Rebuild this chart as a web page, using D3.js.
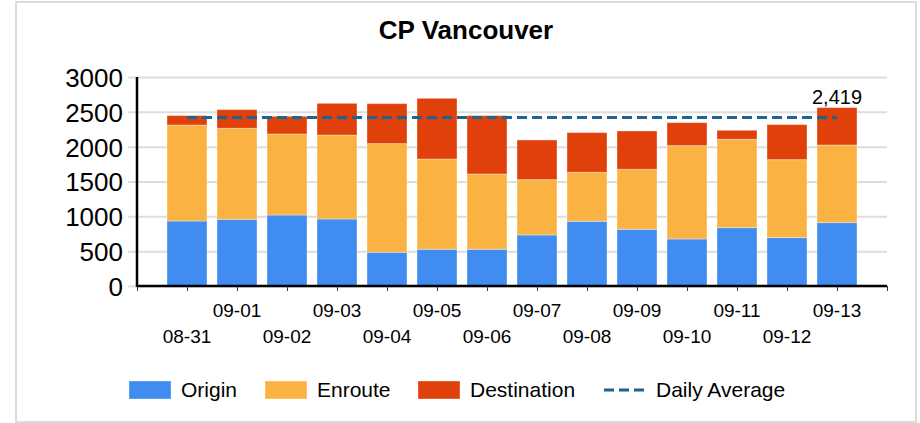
<!DOCTYPE html>
<html>
<head>
<meta charset="utf-8">
<script src="https://cdn.jsdelivr.net/npm/d3@7"></script>
<style>
  body { margin: 0; background: #fff; font-family: "Liberation Sans", Arial, sans-serif; }
</style>
</head>
<body>
<div id="chart"></div>
<script>
let w = 920;
let h = 423;

// data
let dates = ['08-31', '09-01', '09-02', '09-03', '09-04', '09-05', '09-06',
             '09-07', '09-08', '09-09', '09-10', '09-11', '09-12', '09-13'];
let origin      = [933, 957, 1019, 962, 484, 527, 527, 732, 929, 814, 675, 838, 695, 910];
let enroute     = [1378, 1307, 1163, 1205, 1560, 1296, 1081, 795, 703, 861, 1340, 1268, 1119, 1114];
let destination = [135, 268, 254, 455, 574, 871, 838, 569, 570, 550, 330, 129, 503, 537];
let dailyAverage = 2419;
let yTicks = [0, 500, 1000, 1500, 2000, 2500, 3000];
let seriesNames = ['Origin', 'Enroute', 'Destination'];
let colors = ['#418cf0', '#fab343', '#e0410a'];
let avgColor = '#1b6493';

let svg = d3.select('#chart')
  .append('svg')
  .attr('width', w)
  .attr('height', h);

// frame
svg.append('rect')
  .attr('x', 16).attr('y', 2)
  .attr('width', 900).attr('height', 420)
  .style('fill', '#fff')
  .style('stroke', '#dcdcdc')
  .style('stroke-width', 2);

// title
svg.append('text')
  .text('CP Vancouver')
  .attr('x', 466).attr('y', 39)
  .attr('text-anchor', 'middle')
  .style('font-size', '26px')
  .style('font-weight', 'bold');

let xScale = d3.scaleLinear()
  .domain([-1, dates.length])
  .range([137, 887]);

let yScale = d3.scaleLinear()
  .domain([0, 3000])
  .range([286, 77]);

// gridlines + y tick labels
let yAxis = d3.axisLeft(yScale)
  .tickValues(yTicks)
  .tickSize(-(887 - 137))
  .tickPadding(14)
  .tickFormat(d3.format('d'));

let gy = svg.append('g')
  .attr('transform', 'translate(137,0)')
  .call(yAxis);
gy.select('.domain').remove();
gy.selectAll('.tick line')
  .attr('x1', -9)
  .style('stroke', '#dddddd')
  .style('stroke-width', 2);
gy.selectAll('.tick text')
  .style('font-size', '26px')
  .style('font-family', '"Liberation Sans", Arial, sans-serif')
  .attr('dy', '0.36em')
  .style('fill', '#000');

// stacked bars
let table = dates.map((d, i) => ({date: d, Origin: origin[i], Enroute: enroute[i], Destination: destination[i]}));
let stacked = d3.stack().keys(seriesNames)(table);

svg.selectAll('g.series')
  .data(stacked)
  .enter()
  .append('g')
  .attr('class', 'series')
  .style('fill', (d, i) => colors[i])
  .selectAll('rect')
  .data(d => d)
  .enter()
  .append('rect')
  .attr('x', (d, i) => xScale(i) - 20)
  .attr('width', 40)
  .attr('y', d => yScale(d[1]))
  .attr('height', d => yScale(d[0]) - yScale(d[1]))
  .style('stroke', 'rgba(255,255,255,0.35)')
  .style('stroke-width', 1);

// x axis
let xAxis = d3.axisBottom(xScale)
  .tickValues(d3.range(-1, dates.length + 1))
  .tickSize(5)
  .tickFormat('');

let gx = svg.append('g')
  .attr('transform', 'translate(0,286)')
  .call(xAxis);
gx.select('.domain')
  .attr('d', 'M137,0H887')
  .style('stroke', '#000')
  .style('stroke-width', 2.5);
gx.selectAll('.tick line').style('stroke', '#333').style('stroke-width', 1);

// y axis line
svg.append('line')
  .attr('x1', 137).attr('x2', 137)
  .attr('y1', yScale(3000)).attr('y2', yScale(0) + 1)
  .style('stroke', '#000')
  .style('stroke-width', 2.5);

// x labels, staggered in two rows
svg.selectAll('text.xlab')
  .data(dates)
  .enter()
  .append('text')
  .attr('class', 'xlab')
  .text(d => d)
  .attr('x', (d, i) => xScale(i))
  .attr('y', (d, i) => i % 2 === 1 ? 317 : 343)
  .attr('text-anchor', 'middle')
  .style('font-size', '19px');

// daily average line
svg.append('line')
  .attr('x1', xScale(0)).attr('x2', xScale(dates.length - 1))
  .attr('y1', yScale(dailyAverage)).attr('y2', yScale(dailyAverage))
  .style('stroke', avgColor)
  .style('stroke-width', 3)
  .style('stroke-dasharray', '10,5');

svg.append('text')
  .text(d3.format(',')(dailyAverage))
  .attr('x', xScale(dates.length - 1))
  .attr('y', 104)
  .attr('text-anchor', 'middle')
  .style('font-size', '20px');

// legend
let legendX = [129, 265, 418];
seriesNames.forEach((name, i) => {
  svg.append('rect')
    .attr('x', legendX[i]).attr('y', 381)
    .attr('width', 42).attr('height', 18)
    .style('fill', colors[i])
    .style('stroke', 'rgba(255,255,255,0.35)');
  svg.append('text')
    .text(name)
    .attr('x', legendX[i] + 52).attr('y', 397)
    .style('font-size', '21px');
});
svg.append('line')
  .attr('x1', 604).attr('x2', 646)
  .attr('y1', 390).attr('y2', 390)
  .style('stroke', avgColor)
  .style('stroke-width', 3)
  .style('stroke-dasharray', '10,5');
svg.append('text')
  .text('Daily Average')
  .attr('x', 656).attr('y', 397)
  .style('font-size', '21px');
</script>
</body>
</html>
